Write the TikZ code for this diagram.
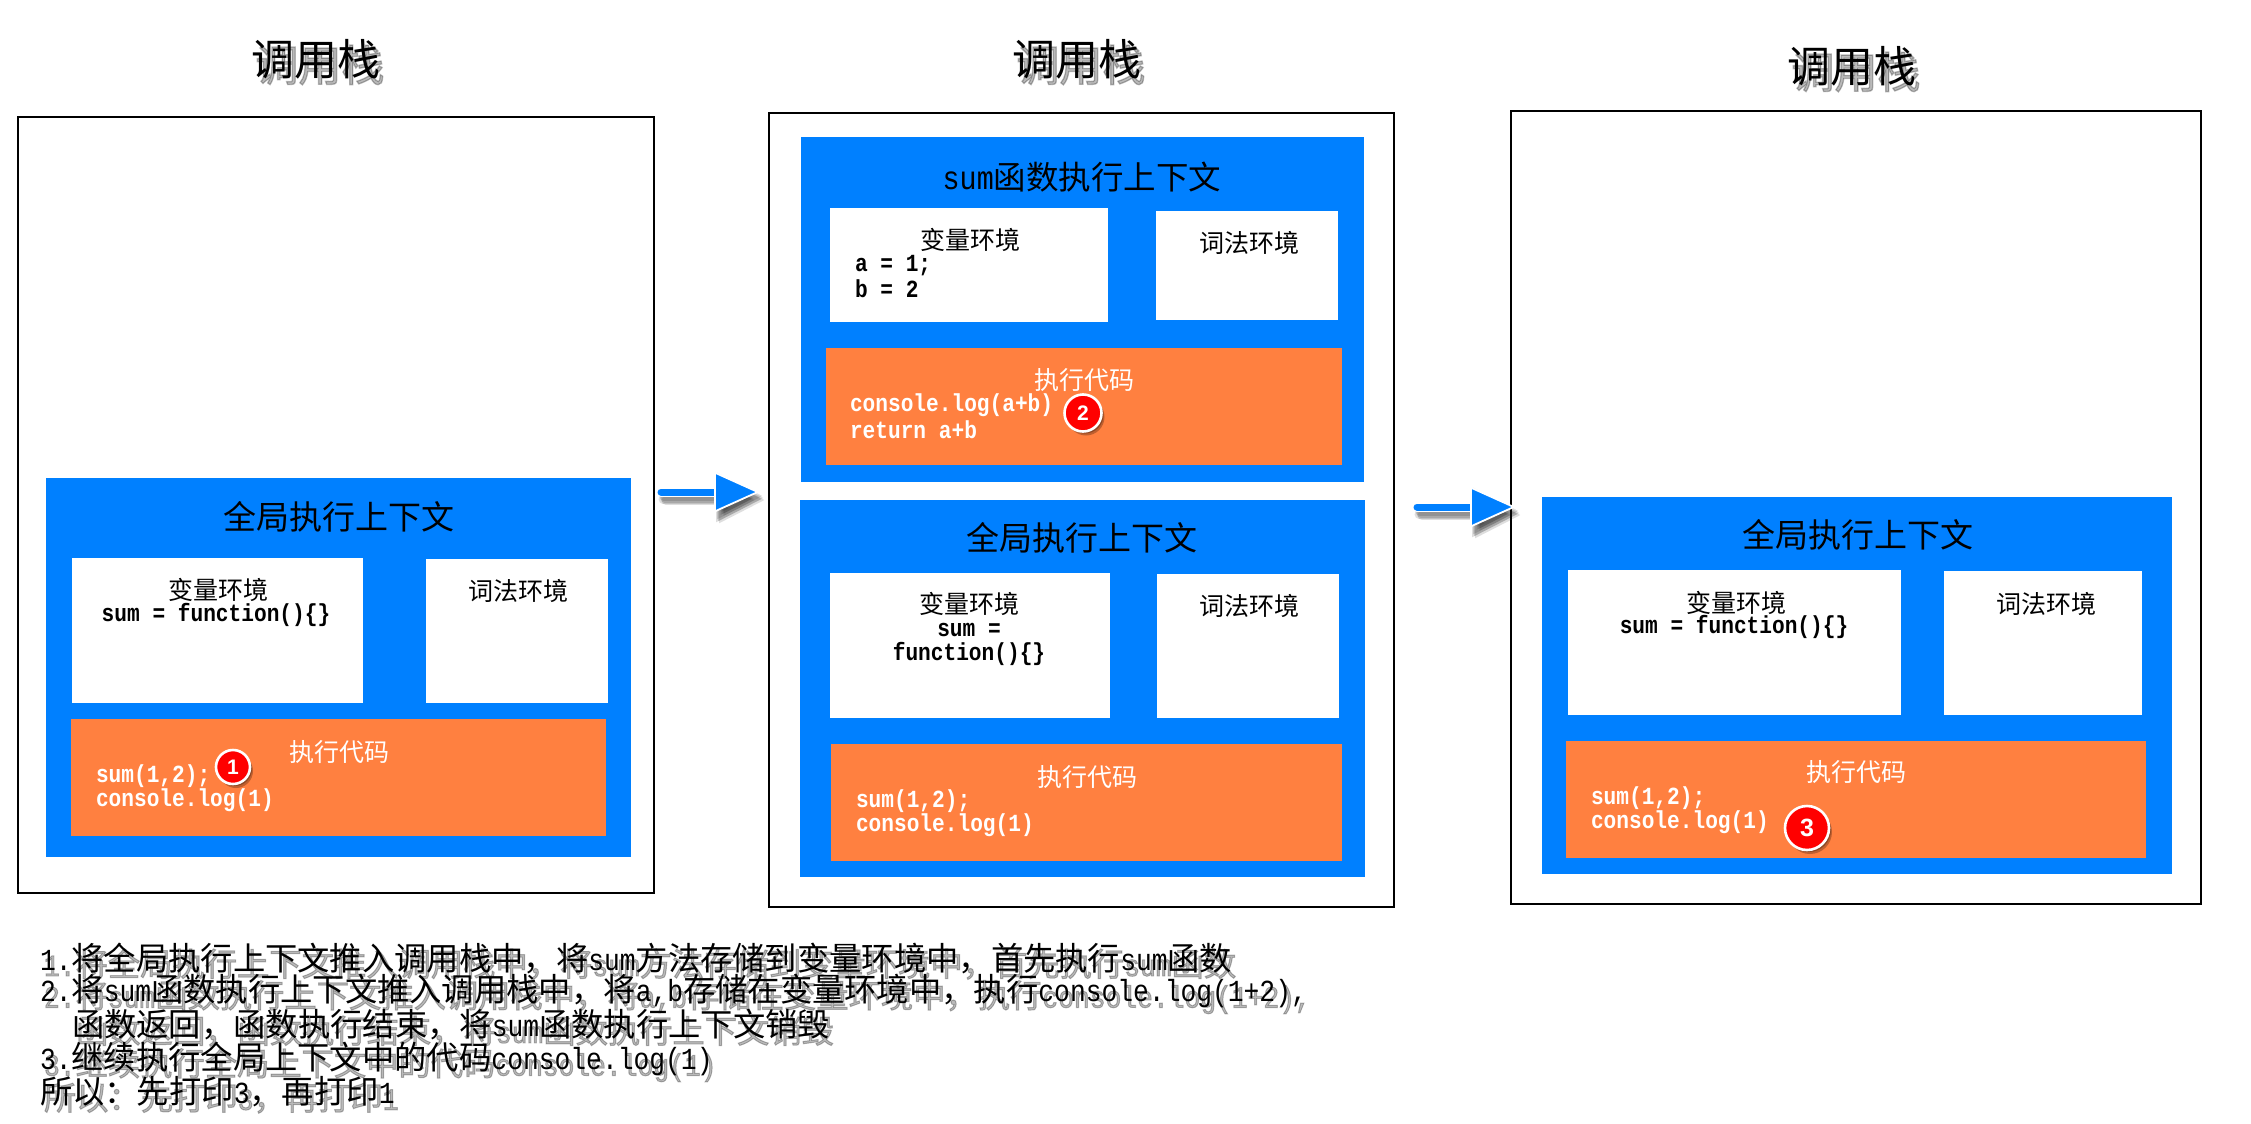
\documentclass[tikz,border=0pt]{standalone}
\usepackage{fontspec}
\usetikzlibrary{arrows.meta,shadows,calc}
\setmainfont{Liberation Mono}
\newfontfamily\cjkf{Noto Sans CJK SC}
\newfontfamily\cjkfat[FakeBold=3]{Noto Sans CJK SC}
\newfontfamily\lat[FakeStretch=0.86]{Liberation Mono}
\newfontfamily\latfat[FakeStretch=0.86,FakeBold=3]{Liberation Mono}
\newfontfamily\digitf{Liberation Sans}
\definecolor{panelblue}{HTML}{0080FF}
\definecolor{codeorange}{HTML}{FF8040}
\newcommand{\zh}[2]{{\fontsize{#1}{#1}\cjkf #2}}
\newcommand{\la}[2]{{\fontsize{#1}{#1}\lat #2}}
% text with a soft shadow: name, position, anchor, content
\newcommand{\softtext}[4]{%
  \node[txt,anchor=#3,opacity=.27] (#1fat) at ($(#2)+(4,6)$) {\let\cjkf\cjkfat\let\lat\latfat #4};
  \node[txt,anchor=#3] (#1) at (#2) {#4};}
\tikzset{
  x=1pt,y=-1pt,
  txt/.style={inner sep=0pt,outer sep=0pt,text=black,align=left},
  panel/.style={draw=black,line width=2.6pt,fill=white},
  ctx/.style={fill=panelblue},
  envbox/.style={fill=white},
  codebox/.style={fill=codeorange},
  badge/.style={circle,fill=red,draw=white,line width=2.6pt,minimum size=#1,inner sep=0pt,text=white,
    font=\fontsize{21}{21}\digitf\bfseries,
    drop shadow={shadow xshift=3pt,shadow yshift=-4pt,fill=black,opacity=.25},
    drop shadow={shadow xshift=2pt,shadow yshift=-2pt,fill=black,opacity=.25}},
  shaftline/.style={line width=7pt,line cap=round,draw=panelblue},
  flowrim/.style={line width=10pt,line cap=round,draw=white,shorten >=30pt},
  flow/.style={shaftline,-{Triangle[length=46pt,width=41pt,fill=panelblue,color=white,line width=1.8pt]}},
  flowshade/.style={line width=9pt,line cap=round,draw=black,opacity=.13,-{Triangle[length=46pt,width=44pt,fill=black,color=black]}},
}
\newcommand{\rectnode}[6]{% name,style,x1,y1,x2,y2
  \node[#2,inner sep=0pt,outer sep=0pt,anchor=north west,minimum width=#5pt-#3pt,minimum height=#6pt-#4pt] (#1) at (#3,#4) {};}
\newcommand{\ctr}[4]{\node[txt,anchor=center] (#1) at (#2,#3) {#4};}
\newcommand{\lft}[4]{\node[txt,anchor=west] (#1) at (#2,#3) {#4};}
\newcommand{\code}[1]{\textcolor{white}{\la{24.6}{\bfseries #1}}}
\newcommand{\env}[1]{\la{24.6}{\bfseries #1}}
\newcommand{\arrowshade}[2]{%
  \foreach \dx/\dy in {3/4,4/6,5/8,2/7}{\draw[flowshade] ($(#1)+(\dx,\dy)$) -- ($(#2)+(\dx,\dy)$);}}
\begin{document}
\begin{tikzpicture}
\useasboundingbox (0,0) rectangle (2251,1124);
\fill[white] (0,0) rectangle (2251,1124);
% titles
\softtext{t1}{316,59}{center}{\zh{43}{调用栈}}
\softtext{t2}{1077,59}{center}{\zh{43}{调用栈}}
\softtext{t3}{1852,66}{center}{\zh{43}{调用栈}}
% panels
\rectnode{p1}{panel}{18}{117}{654}{893}
\rectnode{p2}{panel}{769}{113}{1394}{907}
\rectnode{p3}{panel}{1511}{111}{2201}{904}
% panel 1
\rectnode{g1}{ctx}{46}{478}{631}{857}
\rectnode{g1v}{envbox}{72}{558}{363}{703}
\rectnode{g1l}{envbox}{426}{559}{608}{703}
\rectnode{g1c}{codebox}{71}{719}{606}{836}
\ctr{g1t}{339}{517}{\zh{33}{全局执行上下文}}
\ctr{g1vt}{218}{590}{\zh{25}{变量环境}}
\ctr{g1vc}{216}{615}{\env{sum = function()\{\}}}
\ctr{g1lt}{518}{591}{\zh{25}{词法环境}}
\ctr{g1ct}{339}{752}{\textcolor{white}{\zh{25}{执行代码}}}
\lft{g1c1}{96}{776}{\code{sum(1,2);}}
\lft{g1c2}{96}{800}{\code{console.log(1)}}
\node[badge=34pt] (b1) at (233,767) {1};
% panel 2 top
\rectnode{s}{ctx}{801}{137}{1364}{482}
\rectnode{sv}{envbox}{830}{208}{1108}{322}
\rectnode{sl}{envbox}{1156}{211}{1338}{320}
\rectnode{sc}{codebox}{826}{348}{1342}{465}
\ctr{st}{1082}{177}{\la{33}{sum}\zh{32.5}{函数执行上下文}}
\ctr{svt}{970}{240}{\zh{25}{变量环境}}
\lft{sv1}{855}{266}{\env{a = 1;}}
\lft{sv2}{855}{289}{\env{b = 2}}
\ctr{slt}{1249}{243}{\zh{25}{词法环境}}
\ctr{sct}{1084}{380}{\textcolor{white}{\zh{25}{执行代码}}}
\lft{sc1}{850}{405}{\code{console.log(a+b)}}
\lft{sc2}{850}{430}{\code{return a+b}}
\node[badge=37pt] (b2) at (1083,413) {2};
% panel 2 bottom
\rectnode{h}{ctx}{800}{500}{1365}{877}
\rectnode{hv}{envbox}{830}{573}{1110}{718}
\rectnode{hl}{envbox}{1157}{574}{1339}{718}
\rectnode{hc}{codebox}{831}{744}{1342}{861}
\ctr{ht}{1082}{538}{\zh{33}{全局执行上下文}}
\ctr{hvt}{969}{604}{\zh{25}{变量环境}}
\ctr{hv1}{969}{630}{\env{sum =}}
\ctr{hv2}{969}{654}{\env{function()\{\}}}
\ctr{hlt}{1249}{606}{\zh{25}{词法环境}}
\ctr{hct}{1087}{777}{\textcolor{white}{\zh{25}{执行代码}}}
\lft{hc1}{856}{801}{\code{sum(1,2);}}
\lft{hc2}{856}{825}{\code{console.log(1)}}
% panel 3
\rectnode{k}{ctx}{1542}{497}{2172}{874}
\rectnode{kv}{envbox}{1568}{570}{1901}{715}
\rectnode{kl}{envbox}{1944}{571}{2142}{715}
\rectnode{kc}{codebox}{1566}{741}{2146}{858}
\ctr{kt}{1858}{535}{\zh{33}{全局执行上下文}}
\ctr{kvt}{1736}{603}{\zh{25}{变量环境}}
\ctr{kv1}{1734}{627}{\env{sum = function()\{\}}}
\ctr{klt}{2046}{604}{\zh{25}{词法环境}}
\ctr{kct}{1856}{772}{\textcolor{white}{\zh{25}{执行代码}}}
\lft{kc1}{1591}{798}{\code{sum(1,2);}}
\lft{kc2}{1591}{822}{\code{console.log(1)}}
\node[badge=44pt,font=\fontsize{25}{25}\digitf\bfseries] (b3) at (1807,828) {3};
% arrows
\coordinate (a1s) at (661,492);
\coordinate (a1e) at (760,492);
\coordinate (a2s) at (1417,507);
\coordinate (a2e) at (1516,507);
\arrowshade{a1s}{a1e}
\arrowshade{a2s}{a2e}
\draw[flowrim] (a1s) -- (a1e);
\draw[flowrim] (a2s) -- (a2e);
\draw[flow] (a1s) -- (a1e);
\draw[flow] (a2s) -- (a2e);
% notes
\softtext{n1}{40,958}{west}{\la{30.6}{1.}\zh{32.3}{将全局执行上下文推入调用栈中，将}\la{30.6}{sum}\zh{32.3}{方法存储到变量环境中，首先执行}\la{30.6}{sum}\zh{32.3}{函数}}
\softtext{n2}{40,991}{west}{\la{30.6}{2.}\zh{32.3}{将}\la{30.6}{sum}\zh{32.3}{函数执行上下文推入调用栈中，将}\la{30.6}{a,b}\zh{32.3}{存储在变量环境中，执行}\la{30.6}{console.log(1+2),}}
\softtext{n3}{72,1025}{west}{\zh{32.3}{函数返回，函数执行结束，将}\la{30.6}{sum}\zh{32.3}{函数执行上下文销毁}}
\softtext{n4}{40,1059}{west}{\la{30.6}{3.}\zh{32.3}{继续执行全局上下文中的代码}\la{30.6}{console.log(1)}}
\softtext{n5}{40,1092}{west}{\zh{32.3}{所以：先打印}\la{30.6}{3}\zh{32.3}{，再打印}\la{30.6}{1}}
\end{tikzpicture}
\end{document}
